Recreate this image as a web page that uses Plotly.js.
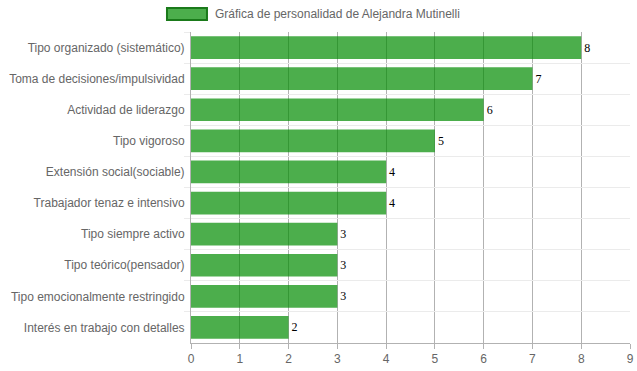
<!DOCTYPE html>
<html>
<head>
<meta charset="utf-8">
<script src="https://cdn.plot.ly/plotly-3.0.1.min.js"></script>
<style>html,body{margin:0;padding:0;background:#fff;}#chart{width:637px;height:371px;}</style>
</head>
<body>
<div id="chart"></div>
<script>
const categories = [
  "Tipo organizado (sistemático)",
  "Toma de decisiones/impulsividad",
  "Actividad de liderazgo",
  "Tipo vigoroso",
  "Extensión social(sociable)",
  "Trabajador tenaz e intensivo",
  "Tipo siempre activo",
  "Tipo teórico(pensador)",
  "Tipo emocionalmente restringido",
  "Interés en trabajo con detalles"
];
const values = [8, 7, 6, 5, 4, 4, 3, 3, 3, 2];
const seriesName = "Gráfica de personalidad de Alejandra Mutinelli";
const xTicks = [0, 1, 2, 3, 4, 5, 6, 7, 8, 9];

const trace = {
  type: 'bar',
  orientation: 'h',
  y: categories,
  x: values,
  name: seriesName,
  width: 0.73,
  marker: { color: 'rgba(0,140,0,0.7)', line: { width: 0 } },
  text: values.map(String),
  textposition: 'outside',
  textfont: { family: '"Liberation Serif", "Times New Roman", serif', size: 12, color: '#000' },
  cliponaxis: false,
  hoverinfo: 'x+y',
  showlegend: false
};

const layout = {
  width: 637,
  height: 371,
  margin: { l: 191, r: 7, t: 32, b: 28 },
  paper_bgcolor: '#fff',
  plot_bgcolor: '#fff',
  font: { family: '"Liberation Sans", Arial, sans-serif', size: 12, color: '#666' },
  xaxis: {
    range: [0, 9],
    tickvals: xTicks,
    ticktext: xTicks.map(String),
    showgrid: true,
    gridcolor: 'rgba(0,0,0,0.3)',
    gridwidth: 1,
    zeroline: false,
    showline: true,
    linecolor: 'rgba(0,0,0,0.3)',
    ticks: 'outside',
    ticklen: 5,
    tickcolor: 'rgba(0,0,0,0.3)',
    tickfont: { size: 12, color: '#666' },
    fixedrange: true
  },
  yaxis: {
    type: 'category',
    autorange: 'reversed',
    tickson: 'boundaries',
    showgrid: true,
    gridcolor: '#ebebeb',
    showline: true,
    linecolor: 'rgba(0,0,0,0.3)',
    ticks: 'outside',
    ticklen: 6,
    tickcolor: '#ebebeb',
    ticklabelstandoff: 3,
    tickfont: { size: 12, color: '#666' },
    fixedrange: true
  },
  shapes: [{
    type: 'rect', xref: 'paper', yref: 'paper',
    x0: -0.0547, x1: 0.0364, y0: 1.0386, y1: 1.0772,
    fillcolor: 'rgba(0,140,0,0.7)',
    line: { color: '#1a7a1a', width: 2 }
  }],
  annotations: [{
    xref: 'paper', yref: 'paper',
    x: 0.0501, y: 1.0579,
    xanchor: 'left', yanchor: 'middle',
    text: seriesName,
    showarrow: false,
    font: { size: 12, color: '#666' }
  }]
};

Plotly.newPlot('chart', [trace], layout, { displayModeBar: false, staticPlot: true });
</script>
</body>
</html>
